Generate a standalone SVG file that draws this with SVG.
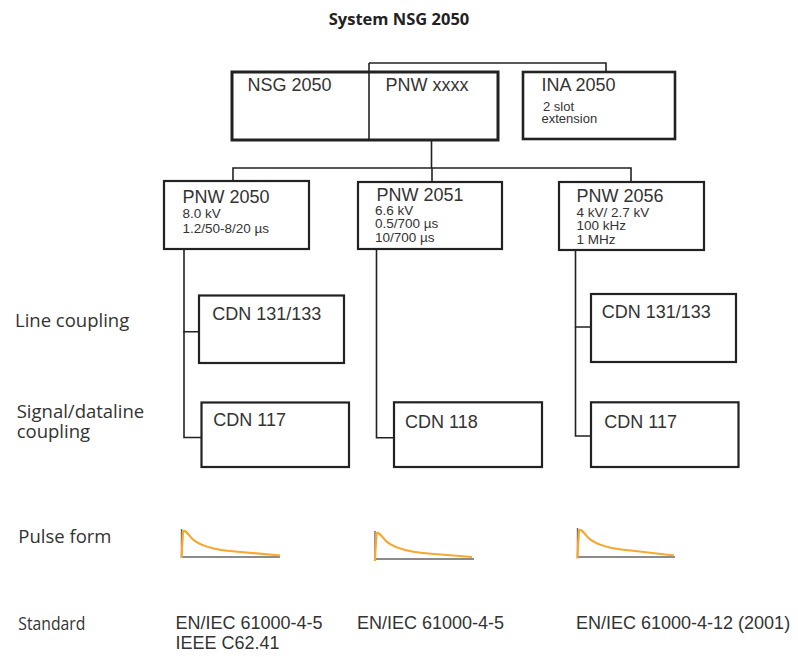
<svg xmlns="http://www.w3.org/2000/svg" width="798" height="657" viewBox="0 0 798 657">
<style>
.box{fill:#fff;stroke:#222;stroke-width:2.2}
.main{fill:#fff;stroke:#222;stroke-width:3}
.con{fill:none;stroke:#222;stroke-width:1.6}
.t1{font-family:"Liberation Sans",Arial,sans-serif;font-size:18px;fill:#333}
.t2{font-family:"Liberation Sans",Arial,sans-serif;font-size:13.5px;fill:#333}
.t3{font-family:"Liberation Sans",Arial,sans-serif;font-size:13px;fill:#333}
.lab{font-family:"Open Sans","Liberation Sans",sans-serif;font-size:18.5px;fill:#333}
.std{font-family:"Liberation Sans",Arial,sans-serif;font-size:18px;fill:#333}
.title{font-family:"Open Sans","Liberation Sans",sans-serif;font-size:16.5px;font-weight:bold;fill:#222}
.axis{fill:none;stroke:#666;stroke-width:1.4}
.pulse{fill:none;stroke:#f7a833;stroke-width:2.2;stroke-linejoin:round}
</style>
<rect width="798" height="657" fill="#fff"/>
<text class="title" x="399" y="25" text-anchor="middle">System NSG 2050</text>

<g id="connectors">
<polyline class="con" points="369,63 606,63 606,72"/>
<polyline class="con" points="431.5,140 431.5,168"/>
<polyline class="con" points="233,181 233,168 631,168 631,182"/>
<polyline class="con" points="432,168 432,182"/>
<polyline class="con" points="199,331.7 184,331.7 184,249"/>
<polyline class="con" points="184,331 184,437.5 201.5,437.5"/>
<polyline class="con" points="376.5,249 376.5,437.7 394,437.7"/>
<polyline class="con" points="591,327 575.5,327 575.5,250"/>
<polyline class="con" points="575.5,327 575.5,436 591,436"/>
</g>

<g id="nsg2050">
<rect class="main" x="232" y="72" width="266" height="68"/>
<line class="con" x1="369" y1="63" x2="369" y2="140"/>
<text class="t1" x="247.5" y="90.7">NSG 2050</text>
<text class="t1" x="385.5" y="90.7">PNW xxxx</text>
</g>
<g id="ina2050">
<rect class="main" x="523" y="72" width="152" height="67" style="stroke-width:2.6"/>
<text class="t1" x="541.5" y="90.7">INA 2050</text>
<text class="t3" x="543" y="111">2 slot</text>
<text class="t3" x="541.5" y="123">extension</text>
</g>

<g id="pnw2050">
<rect class="box" x="164" y="181" width="145" height="68"/>
<text class="t1" x="182.5" y="202.7">PNW 2050</text>
<text class="t2" x="182.5" y="218.3">8.0 kV</text>
<text class="t2" x="182.5" y="233.3">1.2/50-8/20 µs</text>
</g>
<g id="pnw2051">
<rect class="box" x="358" y="182" width="144" height="67"/>
<text class="t1" x="376.5" y="200.5">PNW 2051</text>
<text class="t2" x="375" y="214.7">6.6 kV</text>
<text class="t2" x="375" y="228.3">0.5/700 µs</text>
<text class="t2" x="375" y="242">10/700 µs</text>
</g>
<g id="pnw2056">
<rect class="box" x="559" y="182" width="145" height="68"/>
<text class="t1" x="576.5" y="201.7">PNW 2056</text>
<text class="t2" x="576.5" y="216.5">4 kV/ 2.7 kV</text>
<text class="t2" x="576.5" y="230.3">100 kHz</text>
<text class="t2" x="576.5" y="244.2">1 MHz</text>
</g>

<g id="cdn131-left">
<rect class="box" x="199" y="295.5" width="145" height="67.5"/>
<text class="t1" x="212.3" y="320">CDN 131/133</text>
</g>
<g id="cdn117-left">
<rect class="box" x="201.5" y="402.5" width="147.5" height="64.5"/>
<text class="t1" x="213.3" y="426">CDN 117</text>
</g>
<g id="cdn118">
<rect class="box" x="394" y="402.3" width="148" height="64.7"/>
<text class="t1" x="405" y="428.3">CDN 118</text>
</g>
<g id="cdn131-right">
<rect class="box" x="591" y="294" width="145" height="68"/>
<text class="t1" x="601.7" y="318.3">CDN 131/133</text>
</g>
<g id="cdn117-right">
<rect class="box" x="591" y="402.3" width="147.5" height="64.7"/>
<text class="t1" x="604.3" y="427.7">CDN 117</text>
</g>

<g id="row-labels">
<text class="lab" x="15" y="326.7">Line coupling</text>
<text class="lab" x="16.7" y="418.3">Signal/dataline</text>
<text class="lab" x="16.7" y="438.3">coupling</text>
<text class="lab" x="18.3" y="542.7">Pulse form</text>
<text class="lab" x="18.3" y="630" textLength="67" lengthAdjust="spacingAndGlyphs">Standard</text>
</g>

<g id="pulse-1">
<polyline class="axis" points="181.5,529 181.5,557 280,557"/>
<path class="pulse" d="M181.5,558 L183,531 C185.5,530 188,534 192,538.5 C199,545.5 211,549.5 235,551.5 L280,555.5"/>
</g>
<g id="pulse-2">
<polyline class="axis" points="375,531 375,559 474,559"/>
<path class="pulse" d="M374.8,561 L376.5,533 C379,532 381.5,536 385.5,540.5 C392.5,547.5 404.5,551.5 428.5,553.5 L472,557"/>
</g>
<g id="pulse-3">
<polyline class="axis" points="577.5,528 577.5,557 675,557"/>
<path class="pulse" d="M577.3,558.5 L579,530 C581.5,529 584,533 588,537.5 C595,544.5 607,548.5 631,550.5 L674,555.5"/>
</g>

<g id="standards">
<text class="std" x="175.5" y="628.5">EN/IEC 61000-4-5</text>
<text class="std" x="175.5" y="648.5">IEEE C62.41</text>
<text class="std" x="357" y="628.5">EN/IEC 61000-4-5</text>
<text class="std" x="576" y="628.5">EN/IEC 61000-4-12 (2001)</text>
</g>
</svg>
